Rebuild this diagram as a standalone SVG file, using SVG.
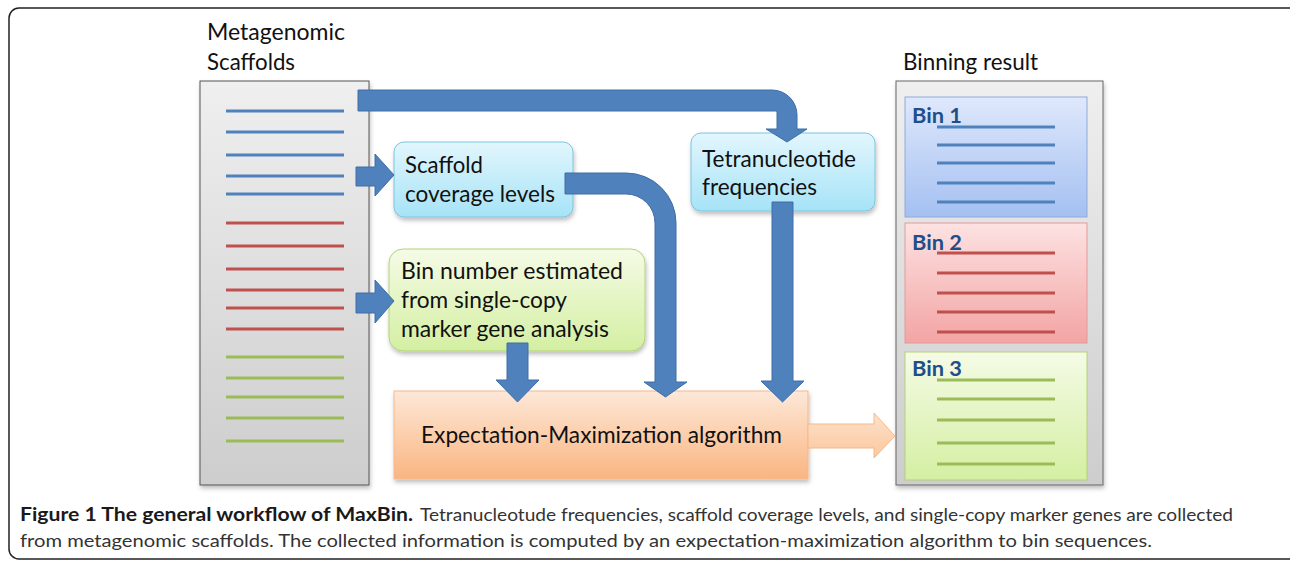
<svg xmlns="http://www.w3.org/2000/svg" width="1290" height="562" viewBox="0 0 1290 562">
<defs>
<linearGradient id="gGray" x1="0" y1="0" x2="0" y2="1"><stop offset="0" stop-color="#efefef"/><stop offset="1" stop-color="#cdcdcd"/></linearGradient>
<linearGradient id="gCyan" x1="0" y1="0" x2="0" y2="1"><stop offset="0" stop-color="#e2f6fd"/><stop offset="1" stop-color="#a6e3f7"/></linearGradient>
<linearGradient id="gGreen" x1="0" y1="0" x2="0" y2="1"><stop offset="0" stop-color="#f5fbe6"/><stop offset="1" stop-color="#d4efa2"/></linearGradient>
<linearGradient id="gOrange" x1="0" y1="0" x2="0" y2="1"><stop offset="0" stop-color="#fde8d8"/><stop offset="1" stop-color="#fab581"/></linearGradient>
<linearGradient id="gOrangeA" x1="0" y1="0" x2="0" y2="1"><stop offset="0" stop-color="#fde2cc"/><stop offset="1" stop-color="#fbc79c"/></linearGradient>
<linearGradient id="gBlue" x1="0" y1="0" x2="0" y2="1"><stop offset="0" stop-color="#dfe8fc"/><stop offset="1" stop-color="#a4c0f1"/></linearGradient>
<linearGradient id="gRed" x1="0" y1="0" x2="0" y2="1"><stop offset="0" stop-color="#fde2e2"/><stop offset="1" stop-color="#f3a4a4"/></linearGradient>
<filter id="sh" x="-10%" y="-10%" width="120%" height="120%"><feDropShadow dx="1" dy="3" stdDeviation="2" flood-color="#000" flood-opacity="0.25"/></filter>
</defs>
<style>
.t{font-family:Lato,"Liberation Sans",sans-serif;font-size:23px;fill:#111}
.b{font-family:Lato,"Liberation Sans",sans-serif;font-size:21px;font-weight:bold;fill:#1f4e8a}
.cap{font-family:Lato,"Liberation Sans",sans-serif;font-size:18px;fill:#333}
.capb{font-family:Lato,"Liberation Sans",sans-serif;font-size:18px;font-weight:bold;fill:#1a1a1a}
.arr{fill:#4f81bd;stroke:#3e6ea6;stroke-width:1}
.lb{stroke:#4f81bd;stroke-width:3}
.lr{stroke:#c0504d;stroke-width:3}
.lg{stroke:#9bbb59;stroke-width:3}
</style>
<rect x="9" y="8" width="1290" height="551" rx="10" fill="#fff" stroke="#222" stroke-width="1.5"/>

<g id="scaffolds">
<text class="t" x="207" y="40" textLength="138" lengthAdjust="spacingAndGlyphs">Metagenomic</text>
<text class="t" x="207" y="70" textLength="88" lengthAdjust="spacingAndGlyphs">Scaffolds</text>
<rect x="200" y="81" width="169" height="404" fill="url(#gGray)" stroke="#555" stroke-width="1" filter="url(#sh)"/>
<g class="lb"><line x1="226" y1="111" x2="344" y2="111"/><line x1="226" y1="132" x2="344" y2="132"/><line x1="226" y1="155" x2="344" y2="155"/><line x1="226" y1="176" x2="344" y2="176"/><line x1="226" y1="194" x2="344" y2="194"/></g>
<g class="lr"><line x1="226" y1="223" x2="344" y2="223"/><line x1="226" y1="246" x2="344" y2="246"/><line x1="226" y1="269" x2="344" y2="269"/><line x1="226" y1="290" x2="344" y2="290"/><line x1="226" y1="308" x2="344" y2="308"/><line x1="226" y1="329" x2="344" y2="329"/></g>
<g class="lg"><line x1="226" y1="357" x2="344" y2="357"/><line x1="226" y1="378" x2="344" y2="378"/><line x1="226" y1="397" x2="344" y2="397"/><line x1="226" y1="418" x2="344" y2="418"/><line x1="226" y1="441" x2="344" y2="441"/></g>
</g>

<g id="coverage">
<rect x="394" y="142" width="179" height="75" rx="10" fill="url(#gCyan)" stroke="#7cc4df" stroke-width="1" filter="url(#sh)"/>
<text class="t" x="405" y="173" textLength="78" lengthAdjust="spacingAndGlyphs">Scaffold</text>
<text class="t" x="405" y="202" textLength="150" lengthAdjust="spacingAndGlyphs">coverage levels</text>
</g>

<g id="tetra">
<rect x="691" y="133" width="184" height="78" rx="10" fill="url(#gCyan)" stroke="#7cc4df" stroke-width="1" filter="url(#sh)"/>
<text class="t" x="702" y="167" textLength="154" lengthAdjust="spacingAndGlyphs">Tetranucleotide</text>
<text class="t" x="702" y="195" textLength="115" lengthAdjust="spacingAndGlyphs">frequencies</text>
</g>

<g id="binnumber">
<rect x="389" y="249" width="256" height="102" rx="14" fill="url(#gGreen)" stroke="#b3d279" stroke-width="1" filter="url(#sh)"/>
<text class="t" x="401" y="279" textLength="222" lengthAdjust="spacingAndGlyphs">Bin number estimated</text>
<text class="t" x="401" y="308" textLength="166" lengthAdjust="spacingAndGlyphs">from single-copy</text>
<text class="t" x="401" y="337" textLength="208" lengthAdjust="spacingAndGlyphs">marker gene analysis</text>
</g>

<g id="em">
<rect x="394" y="391" width="414" height="88" fill="url(#gOrange)" stroke="#f5b88a" stroke-width="1" filter="url(#sh)"/>
<text class="t" x="421" y="443" textLength="361" lengthAdjust="spacingAndGlyphs">Expectation-Maximization algorithm</text>
</g>

<g id="binning">
<text class="t" x="903" y="70" textLength="135" lengthAdjust="spacingAndGlyphs">Binning result</text>
<rect x="896" y="81" width="207" height="404" fill="url(#gGray)" stroke="#666" stroke-width="1" filter="url(#sh)"/>
<g id="bin1">
<rect x="905" y="97" width="182" height="120" fill="url(#gBlue)" stroke="#8eaadb" stroke-width="1"/>
<text class="b" x="912" y="123" textLength="50" lengthAdjust="spacingAndGlyphs">Bin 1</text>
<g class="lb"><line x1="937" y1="127" x2="1055" y2="127"/><line x1="937" y1="145" x2="1055" y2="145"/><line x1="937" y1="163" x2="1055" y2="163"/><line x1="937" y1="183" x2="1055" y2="183"/><line x1="937" y1="202" x2="1055" y2="202"/></g>
</g>
<g id="bin2">
<rect x="905" y="223" width="182" height="120" fill="url(#gRed)" stroke="#e39a9a" stroke-width="1"/>
<text class="b" x="912" y="250" textLength="50" lengthAdjust="spacingAndGlyphs">Bin 2</text>
<g class="lr"><line x1="937" y1="253" x2="1055" y2="253"/><line x1="937" y1="273" x2="1055" y2="273"/><line x1="937" y1="293" x2="1055" y2="293"/><line x1="937" y1="312" x2="1055" y2="312"/><line x1="937" y1="332" x2="1055" y2="332"/></g>
</g>
<g id="bin3">
<rect x="905" y="352" width="182" height="128" fill="url(#gGreen)" stroke="#b3d279" stroke-width="1"/>
<text class="b" x="912" y="376" textLength="50" lengthAdjust="spacingAndGlyphs">Bin 3</text>
<g class="lg"><line x1="937" y1="380" x2="1055" y2="380"/><line x1="937" y1="399" x2="1055" y2="399"/><line x1="937" y1="420" x2="1055" y2="420"/><line x1="937" y1="443" x2="1055" y2="443"/><line x1="937" y1="464" x2="1055" y2="464"/></g>
</g>
</g>

<g id="connectors">
<path class="arr" d="M358,90 H772 A25,25 0 0 1 797,115 V129 H807 L787,142 L766,129 H777 V111 H358 Z"/>
<path class="arr" d="M356,167 H375 V154 L394,175 L375,196 V186 H356 Z"/>
<path class="arr" d="M356,293 H375 V280 L394,301 L375,323 V313 H356 Z"/>
<path class="arr" d="M565,173 H626 A50,50 0 0 1 676,223 V382 H687 L665.5,397 L644,382 H655 V223 A29,29 0 0 0 626,194 H565 Z"/>
<path class="arr" d="M507,343 H528 V380 H539 L517.5,402 L496,380 H507 Z"/>
<path class="arr" d="M772,202 H793 V381 H804 L782.5,402 L761,381 H772 Z"/>
<path d="M808,424 H874 V413 L895,436 L874,458 V448 H808 Z" fill="url(#gOrangeA)" stroke="#f5b88a" stroke-width="1"/>
</g>

<g id="caption">
<text class="capb" x="20" y="521" textLength="393" lengthAdjust="spacingAndGlyphs">Figure 1 The general workflow of MaxBin.</text>
<text class="cap" x="420" y="521" textLength="813" lengthAdjust="spacingAndGlyphs">Tetranucleotude frequencies, scaffold coverage levels, and single-copy marker genes are collected</text>
<text class="cap" x="20" y="547" textLength="1132" lengthAdjust="spacingAndGlyphs">from metagenomic scaffolds. The collected information is computed by an expectation-maximization algorithm to bin sequences.</text>
</g>
</svg>
